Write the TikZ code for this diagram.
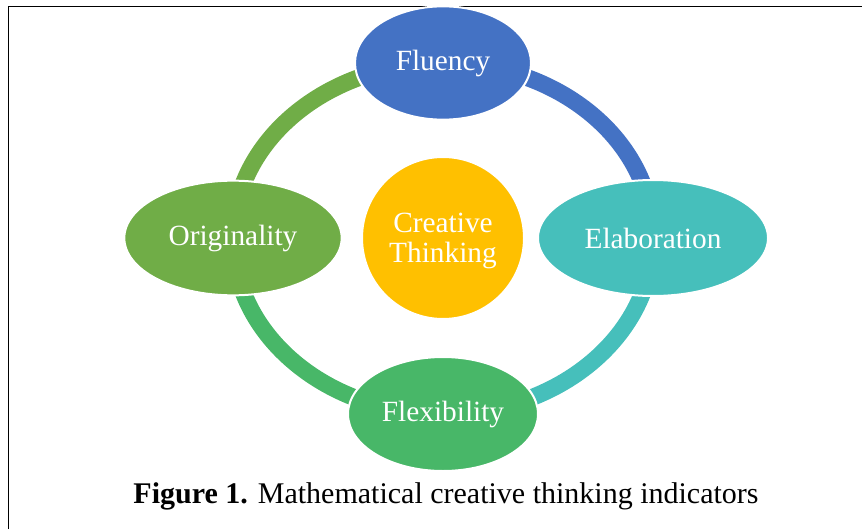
\documentclass[tikz,border=0pt]{standalone}
\usepackage{fontspec}
\setmainfont{Liberation Serif}
\usepackage{xcolor}
\usepackage{tikz}
\usetikzlibrary{shapes.geometric,backgrounds}
\definecolor{flublue}{RGB}{68,114,196}
\definecolor{elateal}{RGB}{70,191,187}
\definecolor{flexgreen}{RGB}{72,183,104}
\definecolor{origgreen}{RGB}{112,173,71}
\definecolor{ctyellow}{RGB}{255,192,0}

\begin{document}
\begin{tikzpicture}[x=0.75pt,y=0.75pt,
  indicator/.style={ellipse,draw=white,line width=1.5pt,text=white,inner sep=0pt,font=\fontsize{22}{22.5}\selectfont},
  ringarc/.style={line width=12.75pt}]
\useasboundingbox (0,0) rectangle (862,529);
\draw[line width=1.1pt] (8.5,0) -- (8.5,522.5) -- (862,522.5);
\node at (443,291) (C) [indicator,circle,fill=ctyellow,minimum size=121.5pt,align=center,text depth=1pt] {Creative\\Thinking};
\node at (443,466) (Flu) [indicator,fill=flublue,minimum width=132pt,minimum height=85pt] {Fluency};
\node at (653,291) (Ela) [indicator,fill=elateal,minimum width=172.5pt,minimum height=87pt] {Elaboration};
\node at (443,115) (Fle) [indicator,fill=flexgreen,minimum width=142.5pt,minimum height=85.5pt] {Flexibility};
\node at (233,291) (Ori) [indicator,fill=origgreen,minimum width=163pt,minimum height=86pt] {Originality};
\node at (446,26) (Cap) [anchor=base,font=\fontsize{22.5}{26}\selectfont] {\textbf{Figure 1.} Mathematical creative thinking indicators};
\begin{scope}[on background layer]
\draw[ringarc,flublue] (Flu.center) arc[start angle=90,end angle=0,x radius=210,y radius=175];
\draw[ringarc,elateal] (Ela.center) arc[start angle=0,end angle=-90,x radius=210,y radius=176];
\draw[ringarc,flexgreen] (Fle.center) arc[start angle=-90,end angle=-180,x radius=210,y radius=176];
\draw[ringarc,origgreen] (Ori.center) arc[start angle=180,end angle=90,x radius=210,y radius=175];
\end{scope}
\end{tikzpicture}
\end{document}
